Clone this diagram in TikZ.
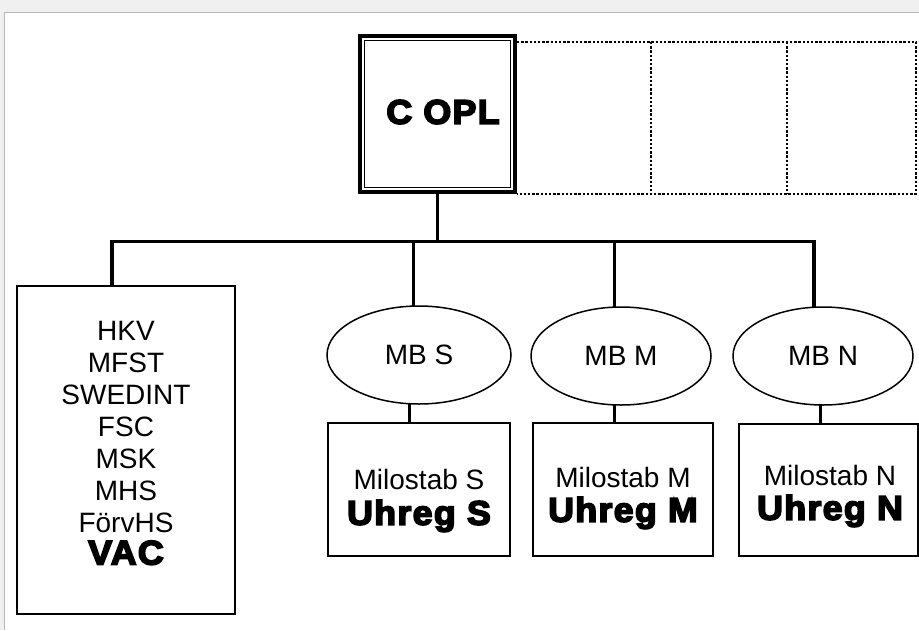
\documentclass[tikz,border=0pt]{standalone}
\usepackage{fontspec}
\setmainfont{Liberation Sans}
\newfontfamily\heavyfont{Liberation Sans Bold}[FakeBold=5,FakeStretch=1.05,LetterSpace=4]
\usetikzlibrary{shapes.geometric,calc}
\begin{document}
\begin{tikzpicture}[x=1pt,y=-1pt,
  every node/.style={inner sep=0pt,outer sep=0pt},
  regular/.style={font=\fontsize{28}{32}\selectfont},
  heavy/.style={font=\heavyfont\fontsize{34}{38}\selectfont},
  thinbox/.style={draw,line width=1.3pt,rectangle},
  oval/.style={draw,ellipse,line width=1.5pt},
  link/.style={line width=3pt},
  ghost/.style={rectangle,anchor=north west,minimum height=152pt},
  ghostline/.style={line width=1.8pt,dash pattern=on 2.4pt off 1.8pt},
  chief/.style={draw,line width=4pt,rectangle}
]
\useasboundingbox (0,0) rectangle (919,630);
% scan frame
\fill[gray!12] (0,0) rectangle (919,12);
\fill[gray!12] (0,12) rectangle (4,630);
\draw[gray!55,line width=1pt] (4,630) -- (4,12) -- (919,12);

% empty dotted positions
\node[ghost,minimum width=134pt] (g1) at (517,42) {};
\node[ghost,minimum width=136pt] (g2) at (651,42) {};
\node[ghost,minimum width=129pt] (g3) at (787,42) {};
\draw[ghostline] (g1.north west) -- (g3.north east) -- (g3.south east) -- (g1.south west);
\draw[ghostline] (g2.north west) -- (g2.south west);
\draw[ghostline] (g3.north west) -- (g3.south west);

% chief box
\node[chief,fill=white,minimum width=155pt,minimum height=156pt] (copl) at (437.5,114) {};
\draw[line width=1pt] ($(copl.north west)+(4.5,4.5)$) rectangle ($(copl.south east)+(-4.5,-4.5)$);
\node[heavy] (copltext) at (443,112) {C OPL};

% left box
\node[thinbox,minimum width=218pt,minimum height=328pt,anchor=north west] (units) at (17,286) {};
\node[regular,align=center] (unitlist) at (126,443) {HKV\\MFST\\SWEDINT\\FSC\\MSK\\MHS\\FörvHS\\{\heavyfont\fontsize{34}{38}\selectfont VAC}};

% MB ellipses
\node[oval,regular,minimum width=184pt,minimum height=98pt] (mbs) at (419,355) {MB S};
\node[oval,regular,minimum width=180pt,minimum height=98pt] (mbm) at (621,356) {MB M};
\node[oval,regular,minimum width=180pt,minimum height=98pt] (mbn) at (823,356) {MB N};

% Milostab boxes
\node[thinbox,minimum width=182pt,minimum height=133pt,anchor=north west] (ms) at (328,423) {};
\node[thinbox,minimum width=180pt,minimum height=133pt,anchor=north west] (mm) at (533,423) {};
\node[thinbox,minimum width=179pt,minimum height=132pt,anchor=north west] (mn) at (739,424) {};
\node[regular] (msa) at (419,479) {Milostab S};
\node[heavy] (msb) at (419,516) {Uhreg S};
\node[regular] (mma) at (623,477) {Milostab M};
\node[heavy] (mmb) at (623,513) {Uhreg M};
\node[regular] (mna) at (830,475) {Milostab N};
\node[heavy] (mnb) at (830,511) {Uhreg N};

% connectors
\coordinate (busL) at (112,241.5);
\coordinate (busR) at (814,241.5);
\coordinate (bS) at (413,241.5);
\coordinate (bM) at (614,241.5);
\coordinate (cS) at (409,0);
\coordinate (cM) at (614,0);
\coordinate (cN) at (820,0);
\draw[link,line width=3.3pt] (copl.south) -- (copl.south |- busL);
\draw[link,line width=3.3pt] (units.north -| busL) -- (busL) -- (busR) -- (busR |- mbn.north);
\draw[link] (bS) -- (bS |- mbs.north);
\draw[link] (bM) -- (bM |- mbm.north);
\draw[link] (cS |- mbs.south) -- (cS |- ms.north);
\draw[link] (cM |- mbm.south) -- (cM |- mm.north);
\draw[link] (cN |- mbn.south) -- (cN |- mn.north);
\end{tikzpicture}
\end{document}
